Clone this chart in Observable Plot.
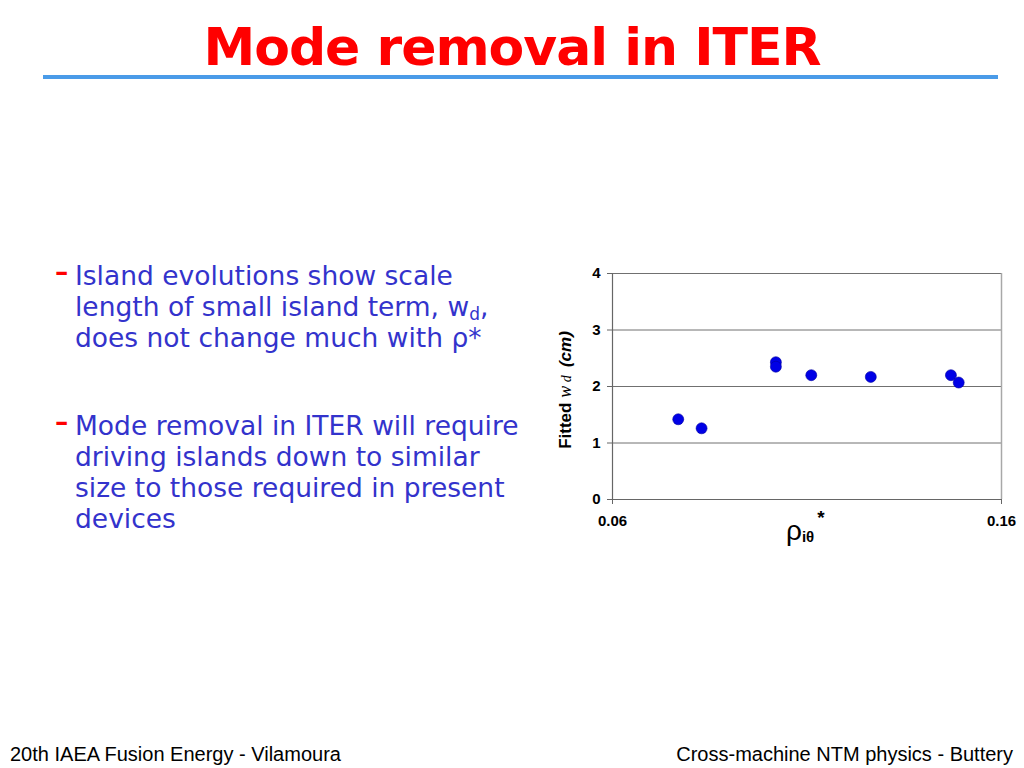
<!DOCTYPE html>
<html>
<head>
<meta charset="utf-8">
<script src="https://cdn.jsdelivr.net/npm/d3@7"></script>
<script src="https://cdn.jsdelivr.net/npm/@observablehq/plot@0.6"></script>
<style>
  html, body { margin: 0; padding: 0; background: #fff; }
  #page { position: relative; width: 1024px; height: 768px; overflow: hidden; background: #fff; }
  #title { position: absolute; left: 0; width: 1024px; top: 17px; text-align: center;
    font-family: "Comic Sans MS", "DejaVu Sans", sans-serif; font-weight: bold; font-size: 52px; color: #ff0000; letter-spacing: -1px; line-height: 60px; }
  #rule { position: absolute; left: 43px; top: 75px; width: 955px; height: 4px; background: #4a9be8; }
  .bullets { position: absolute; left: 55px; top: 260px; width: 490px;
    font-family: "Comic Sans MS", "DejaVu Sans", sans-serif; font-size: 26.5px; line-height: 31px; color: #3333cc; white-space: nowrap; }
  .item { position: relative; padding-left: 20px; }
  .item .dash { position: absolute; left: 0; top: -4px; color: #ff0000; font-weight: bold; }
  .item sub { font-size: 17px; line-height: 0; vertical-align: -4px; }
  .foot { position: absolute; top: 743px; font-family: "Liberation Sans", Arial, sans-serif; font-size: 20px; color: #000; }
  #chart { position: absolute; left: 550px; top: 255px; }
  #chart svg g[aria-label$="tick label"] text { font-size: 15px !important; font-weight: bold !important; }
</style>
</head>
<body>
<div id="page">
  <div id="title">Mode removal in ITER</div>
  <div id="rule"></div>
  <div class="bullets">
    <div class="item"><span class="dash">–</span>Island evolutions show scale<br>length of small island term, w<sub>d</sub>,<br>does not change much with ρ*</div>
    <div class="item" style="margin-top:57px"><span class="dash">–</span>Mode removal in ITER will require<br>driving islands down to similar<br>size to those required in present<br>devices</div>
  </div>
  <div id="chart"></div>
  <div class="foot" style="left:10px">20th IAEA Fusion Energy - Vilamoura</div>
  <div class="foot" style="right:11px">Cross-machine NTM physics - Buttery</div>
</div>
<script>
const rhoStar = [0.0769, 0.0829, 0.1020, 0.1020, 0.1111, 0.1264, 0.1470, 0.1490];
const wd      = [1.42,   1.26,   2.43,   2.35,   2.20,   2.17,   2.20,   2.07];
const xTicks = [0.06, 0.16];
const yTicks = [0, 1, 2, 3, 4];
const gridY = [1, 2, 3, 4];

const data = rhoStar.map((x, i) => ({x, y: wd[i]}));

const W = 470, H = 300;
const plot = Plot.plot({
  width: W,
  height: H,
  marginLeft: 62,
  marginRight: 19,
  marginTop: 18,
  marginBottom: 56,
  style: {fontFamily: "Liberation Sans, Arial, sans-serif", fontSize: "15px", fontWeight: "bold", color: "#000", background: "#fff"},
  x: {domain: [0.06, 0.16], ticks: xTicks, tickFormat: d3.format(".2f"), label: null},
  y: {domain: [0, 4], ticks: yTicks, tickFormat: d3.format("d"), label: null},
  marks: [
    Plot.ruleY(gridY, {stroke: "#707070", strokeWidth: 1}),
    Plot.ruleX([0.16], {stroke: "#a8a8a8", strokeWidth: 1.5}),
    Plot.ruleX([0.06], {stroke: "#666", strokeWidth: 1.2}),
    Plot.ruleY([0], {stroke: "#666", strokeWidth: 1.2}),
    Plot.axisY({ticks: yTicks, tickSize: 5, tickPadding: 7, stroke: "#666", tickFormat: d3.format("d"), label: null, fontSize: 15}),
    Plot.axisX({ticks: xTicks, tickSize: 5, tickPadding: 11, stroke: "#666", tickFormat: d3.format(".2f"), label: null, fontSize: 15}),
    Plot.dot(data, {x: "x", y: "y", r: 5.5, fill: "#0000e6", stroke: "#0000a0", strokeWidth: 0.6})
  ]
});
document.getElementById("chart").appendChild(plot);

const svg = d3.select(plot);
svg.selectAll("text").attr("font-size", 15).style("font-size", "15px");

// axis labels with rich text
const yl = svg.append("text")
  .attr("transform", `translate(${571-550},${390-255}) rotate(-90)`)
  .attr("text-anchor", "middle")
  .attr("font-family", "Liberation Sans, Arial, sans-serif")
  .attr("font-weight", "bold").attr("fill", "#000").style("font-size", "17px");
yl.append("tspan").text("Fitted ");
yl.append("tspan").attr("font-family", "Liberation Serif, Times New Roman, serif").attr("font-style", "italic").attr("font-weight", "normal").style("font-size", "18px").text("w");
yl.append("tspan").attr("font-family", "Liberation Serif, Times New Roman, serif").attr("font-style", "italic").attr("font-weight", "normal").style("font-size", "14px").text(" d ");
yl.append("tspan").attr("font-style", "italic").text(" (cm)");

const xl = svg.append("text")
  .attr("x", 786-550).attr("y", 540-255)
  .attr("text-anchor", "start")
  .attr("font-family", "Liberation Sans, Arial, sans-serif").attr("fill", "#000");
xl.append("tspan").style("font-size", "28px").attr("font-weight", "normal").text("ρ");
xl.append("tspan").style("font-size", "15px").attr("font-weight", "bold").attr("dy", 2).text("iθ");
xl.append("tspan").style("font-size", "19px").attr("font-weight", "bold").attr("dy", -18).attr("dx", 3).text("*");
</script>
</body>
</html>
